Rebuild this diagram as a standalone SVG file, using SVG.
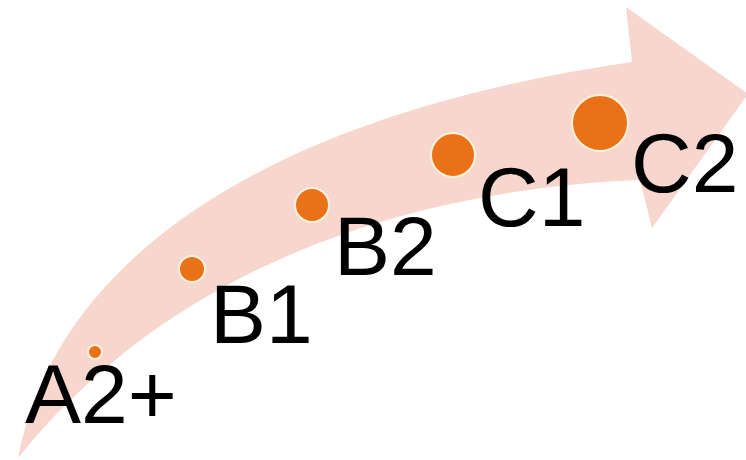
<svg xmlns="http://www.w3.org/2000/svg" width="746" height="460" viewBox="0 0 746 460">
<style>
.lbl{font-family:"Liberation Sans",Arial,sans-serif;font-size:84px;fill:#000}
.dot{fill:#E97118;stroke:#FFF1DA;stroke-width:2}
</style>
<rect width="746" height="460" fill="#fff"/>
<g id="arrow">
<path d="M18,458 C60,240 300,110 632,62 L626,7 L748,94 L652,228 L640,180 C400,190 170,270 18,458 Z" fill="#F7D6CD"/>
</g>
<g id="connectors"></g>
<g id="node-a2">
<circle class="dot" cx="95" cy="352" r="7"/>
<text class="lbl" x="25" y="423">A2+</text>
</g>
<g id="node-b1">
<circle class="dot" cx="192" cy="269" r="13"/>
<text class="lbl" x="210" y="343">B1</text>
</g>
<g id="node-b2">
<circle class="dot" cx="312" cy="205" r="17"/>
<text class="lbl" x="334" y="275">B2</text>
</g>
<g id="node-c1">
<circle class="dot" cx="453" cy="155" r="22"/>
<text class="lbl" x="478" y="226">C1</text>
</g>
<g id="node-c2">
<circle class="dot" cx="600" cy="123" r="28"/>
<text class="lbl" x="631" y="192">C2</text>
</g>
</svg>
